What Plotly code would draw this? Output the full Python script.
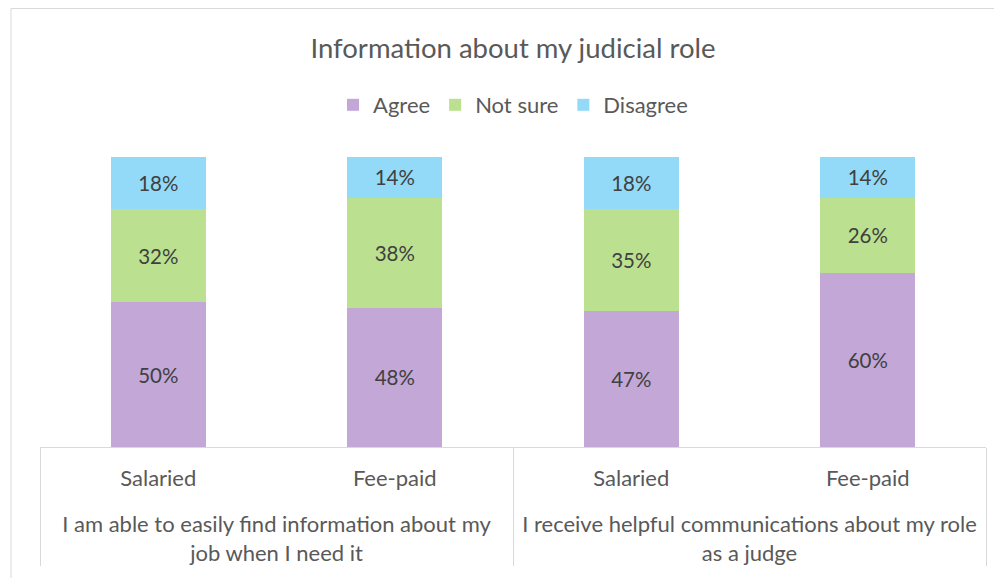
import plotly.graph_objects as go

# statements (outer axis level) and judge types (inner level)
statements = [
    "I am able to easily find information about my<br>job when I need it",
    "I receive helpful communications about my role<br>as a judge",
]
roles = ["Salaried", "Fee-paid"]

agree = [50, 48, 47, 60]
not_sure = [32, 38, 35, 26]
disagree = [18, 14, 18, 14]

# leading blank line pushes the outer level further down, like the original
outer = ["<br>" + s for s in statements for _ in roles]
inner = roles * len(statements)
x = [outer, inner]

FONT = "Lato"
GREY = "#595959"

# page has an 8px body margin, so the figure is a bit smaller than the window
W, H = 994, 570
L, R, T, B = 32, 16, 149, 131
pw, ph = W - L - R, H - T - B

fig = go.Figure()
series = [
    ("Agree", agree, "#C3A7D7"),
    ("Not sure", not_sure, "#BBE08F"),
    ("Disagree", disagree, "#92DAF7"),
]
for name, vals, col in series:
    fig.add_trace(go.Bar(
        x=x,
        y=vals,
        name=name,
        marker=dict(color=col, line=dict(width=0)),
        texttemplate="%{y}%",
        textposition="inside",
        insidetextanchor="middle",
        textangle=0,
        textfont=dict(family=FONT, size=20.5, color="#404040"),
        hoverinfo="skip",
    ))

fig.update_layout(
    barmode="stack",
    bargap=0.6,
    width=W,
    height=H,
    margin=dict(l=L, r=R, t=T, b=B),
    paper_bgcolor="white",
    plot_bgcolor="white",
    font=dict(family=FONT, color=GREY),
    title=dict(
        text="Information about my judicial role",
        x=0.5, xref="paper", xanchor="center",
        y=1 - 40 / H, yanchor="middle",
        font=dict(family=FONT, size=27.5, color=GREY),
    ),
    legend=dict(
        orientation="h",
        x=0.5, xanchor="center",
        y=1 - 97 / H, yref="container", yanchor="middle",
        font=dict(family=FONT, size=22, color=GREY),
        traceorder="normal",
        itemwidth=30,
    ),
    xaxis=dict(
        type="multicategory",
        showline=True,
        linecolor="#d9d9d9",
        linewidth=1,
        showdividers=True,
        dividercolor="#d9d9d9",
        dividerwidth=1,
        tickfont=dict(family=FONT, size=22, color=GREY),
        ticks="",
        ticklabelstandoff=12,
    ),
    yaxis=dict(range=[0, 100], visible=False, showgrid=False),
    shapes=[
        dict(type="rect", xref="paper", yref="paper",
             x0=(3 - L) / pw, x1=(W + 20 - L) / pw,
             y0=(T + ph - H - 40) / ph, y1=(T + ph - 0.5) / ph,
             line=dict(color="#d9d9d9", width=1), layer="below"),
    ],
)

fig.write_html("out.html")
